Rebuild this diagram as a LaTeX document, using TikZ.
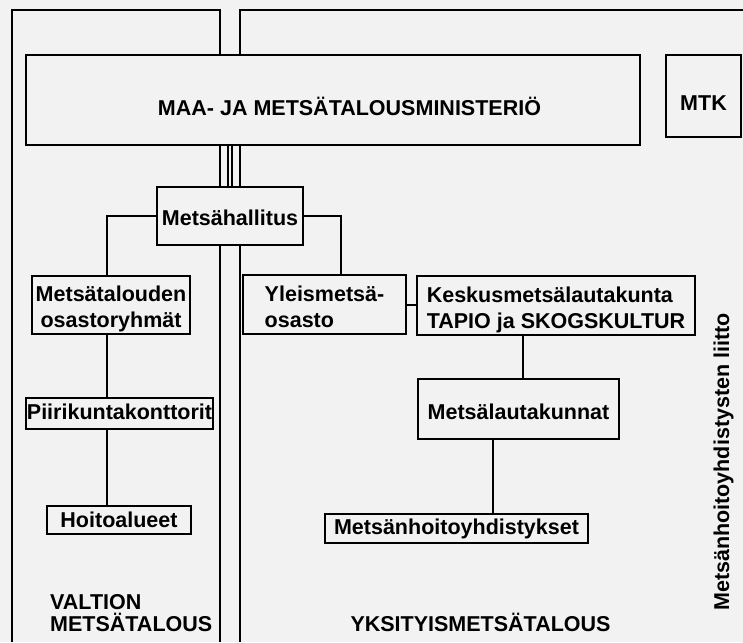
\documentclass[tikz,border=0pt]{standalone}
\usepackage{fontspec}
\setmainfont{Liberation Sans}
\newcommand{\lbl}{\bfseries\fontsize{21.5}{26}\selectfont}
\definecolor{paper}{gray}{0.95}
\tikzset{
  box/.style={draw, line width=2.2pt, fill=paper, inner sep=0pt, font=\lbl},
  conn/.style={line width=2pt},
  panel/.style={line width=1.6pt},
  txt/.style={font=\lbl, inner sep=0pt},
}
\begin{document}
\begin{tikzpicture}[x=1pt,y=-1pt]
\fill[paper] (0,0) rectangle (743,642);
\useasboundingbox (0,0) rectangle (743,642);
% panels
\draw[panel] (12,642) -- (12,10) -- (220,10) -- (220,642);
\draw[panel] (240,642) -- (240,10) -- (743,10);
% boxes
\node[box, minimum width=614pt, minimum height=90pt, text height=30pt, text depth=0pt] (min) at (333,100) {\hspace*{33pt}MAA- JA METSÄTALOUSMINISTERIÖ};
\node[box, minimum width=75pt, minimum height=82pt, text height=28pt, text depth=0pt] (mtk) at (703.5,96) {MTK};
\node[box, minimum width=146pt, minimum height=58pt, text height=18pt, text depth=0pt] (hal) at (230,216) {Metsähallitus};
\node[box, minimum width=158pt, minimum height=58pt, text height=15pt, text depth=23pt] (osr) at (111,305) {\begin{tabular}[t]{@{}c@{}}Metsätalouden\\osastoryhmät\end{tabular}};
\node[box, minimum width=163pt, minimum height=59pt, text height=15pt, text depth=21pt] (yle) at (324.5,304.5) {\begin{tabular}[t]{@{}l@{}}Yleismetsä-\\osasto\end{tabular}};
\node[box, minimum width=278pt, minimum height=59pt, text height=15pt, text depth=21pt] (kes) at (556,305.5) {\begin{tabular}[t]{@{}l@{}}Keskusmetsälautakunta\\TAPIO ja SKOGSKULTUR\end{tabular}};
\node[box, minimum width=201pt, minimum height=60pt, text height=21pt, text depth=0pt] (mla) at (518.5,409) {Metsälautakunnat};
\node[box, minimum width=263pt, minimum height=29pt, text height=11pt, text depth=0pt] (mhy) at (456.5,528.5) {Metsänhoitoyhdistykset};
\node[box, minimum width=187pt, minimum height=31pt, text height=11pt, text depth=0pt] (pii) at (119.5,413.5) {Piirikuntakonttorit};
\node[box, minimum width=144pt, minimum height=28pt, text height=15pt, text depth=0pt] (hoi) at (119,520) {Hoitoalueet};
% connectors
\coordinate (lx) at (107,0);
\draw[line width=1.5pt, double=paper, double distance=2.2pt] (hal.north) -- (hal.north |- min.south);
\draw[conn] (hal.west) -| (lx |- osr.north);
\draw[conn] (hal.east) -| ([xshift=16.5pt]yle.north);
\draw[conn] (yle.east) -- (yle.east -| kes.west);
\draw[conn] ([xshift=-33pt]kes.south) -- ([xshift=-33pt]kes.south |- mla.north);
\draw[conn] ([xshift=-25.5pt]mla.south) -- ([xshift=-25.5pt]mla.south |- mhy.north);
\draw[conn] (lx |- osr.south) -- (lx |- pii.north);
\draw[conn] (lx |- pii.south) -- (lx |- hoi.north);
% texts
\node[txt, anchor=base west] (val1) at (50,609) {VALTION};
\node[txt, anchor=base west] (val2) at (50,631) {METSÄTALOUS};
\node[txt, anchor=base] (yks) at (480.5,631) {YKSITYISMETSÄTALOUS};
\node[txt, anchor=base, rotate=90] (liitto) at (729,462) {Metsänhoitoyhdistysten liitto};
\end{tikzpicture}
\end{document}
